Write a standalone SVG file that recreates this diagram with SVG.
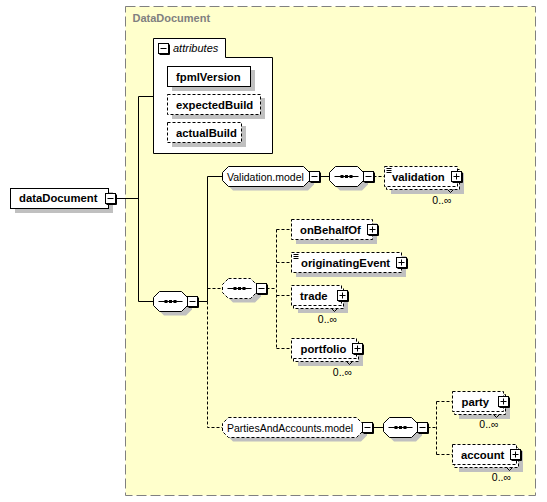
<svg xmlns="http://www.w3.org/2000/svg" xmlns:xlink="http://www.w3.org/1999/xlink" width="547" height="502" viewBox="0 0 547 502">
<style>
.bx{fill:#fff;stroke:#000;stroke-width:1}
.d{stroke-dasharray:3,2}
.sh{fill:#c0c0c0;stroke:none}
.ln{fill:none;stroke:#000;stroke-width:1}
.el{font-family:"Liberation Sans",Arial,sans-serif;font-weight:bold;font-size:11.3px;fill:#000}
.md{font-family:"Liberation Sans",Arial,sans-serif;font-size:10.5px;fill:#000}
.oc{font-family:"Liberation Sans",Arial,sans-serif;font-size:10.5px;fill:#000;text-anchor:end}
.ct{font-family:"Liberation Sans",Arial,sans-serif;font-weight:bold;font-size:11px;fill:#808080}
.at{font-family:"Liberation Sans",Arial,sans-serif;font-style:italic;font-size:11px;fill:#000}
</style>
<defs>
<g id="mn"><rect x="0" y="0" width="10" height="10" class="bx"/><path d="M2,5H8" class="ln"/><path d="M11,1V11H1" class="ln"/></g>
<g id="pl"><rect x="0" y="0" width="10" height="10" class="bx"/><path d="M2,5H8M5,2V8" class="ln"/><path d="M11,1V11H1" class="ln"/></g>
<g id="seqsym"><path d="M5,10H29" class="ln"/><rect x="11" y="8.5" width="3" height="3" fill="#000"/><rect x="15.5" y="8.5" width="3" height="3" fill="#000"/><rect x="20" y="8.5" width="3" height="3" fill="#000"/></g>
<polygon id="oct" points="6,0 28,0 34,6 34,14 28,20 6,20 0,14 0,6"/>
<path id="doc" d="M1.5,2H6.5M1.5,4H6.5M1.5,6H6.5" class="ln"/>
</defs>

<g id="DataDocument">
<rect x="125.5" y="6.5" width="410" height="489" fill="#ffffcc" stroke="#808080" stroke-dasharray="10,4"/>
<text x="132.5" y="22" class="ct">DataDocument</text>
</g>

<g id="connectors">
<path d="M115.5,198.5H138.5M138.5,96.5V301.5M138.5,96.5H153.5M138.5,301.5H153.5" class="ln"/>
<path d="M197.5,301.5H207.5M207.5,176.5V301.5M207.5,176.5H222.5" class="ln"/>
<path d="M207.5,301.5V427.5H222.5M207.5,288.5H222.5" class="ln d"/>
<path d="M319.5,176.5H329.5" class="ln"/>
<path d="M373.5,176.5H384.5" class="ln d"/>
<path d="M266.5,288.5H276.5M276.5,229.5V348.5M276.5,229.5H291.5M276.5,262.5H291.5M276.5,295.5H291.5M276.5,348.5H291.5" class="ln d"/>
<path d="M372.5,427.5H383.5" class="ln"/>
<path d="M427.5,427.5H436.5M436.5,401.5V454.5M436.5,401.5H452.5M436.5,454.5H452.5" class="ln d"/>
</g>

<g id="dataDocument">
<rect x="15" y="192" width="98" height="21" class="sh"/>
<rect x="10.5" y="188.5" width="98" height="20" class="bx"/>
<text x="19" y="202" class="el">dataDocument</text>
<use xlink:href="#mn" x="105.5" y="193.5"/>
</g>

<g id="attributes">
<path d="M153.5,38.5H225.5V57.5H272.5V153.5H153.5Z" class="bx"/>
<use xlink:href="#mn" x="158.5" y="43.5"/>
<text x="173" y="52" class="at">attributes</text>
</g>
<g id="fpmlVersion">
<rect x="172" y="70" width="83" height="21" class="sh"/>
<rect x="167.5" y="66.5" width="83" height="20" class="bx"/>
<text x="176" y="81" class="el">fpmlVersion</text>
</g>
<g id="expectedBuild">
<rect x="172" y="98" width="93" height="21" class="sh"/>
<rect x="167.5" y="94.5" width="93" height="20" class="bx d"/>
<text x="176" y="109" class="el">expectedBuild</text>
</g>
<g id="actualBuild">
<rect x="172" y="126" width="74" height="21" class="sh"/>
<rect x="167.5" y="122.5" width="74" height="20" class="bx d"/>
<text x="176" y="137" class="el">actualBuild</text>
</g>

<g id="sequence1">
<use xlink:href="#oct" x="158" y="295.5" class="sh"/>
<use xlink:href="#oct" x="153.5" y="291.5" class="bx"/>
<use xlink:href="#seqsym" x="153.5" y="291.5"/>
<use xlink:href="#mn" x="187.5" y="296.5"/>
</g>

<g id="Validation.model">
<polygon points="233,170.5 308,170.5 314,176.5 314,184.5 308,190.5 233,190.5 227,184.5 227,176.5" class="sh"/>
<polygon points="228.5,166.5 303.5,166.5 309.5,172.5 309.5,180.5 303.5,186.5 228.5,186.5 222.5,180.5 222.5,172.5" class="bx"/>
<text x="227" y="180.5" class="md">Validation.model</text>
<use xlink:href="#mn" x="309.5" y="171.5"/>
</g>

<g id="sequence3">
<use xlink:href="#oct" x="334" y="170.5" class="sh"/>
<use xlink:href="#oct" x="329.5" y="166.5" class="bx"/>
<use xlink:href="#seqsym" x="329.5" y="166.5"/>
<use xlink:href="#mn" x="363.5" y="171.5"/>
</g>

<g id="validation">
<rect x="391" y="173" width="73" height="21" class="sh"/>
<rect x="386.5" y="169.5" width="73" height="20" class="bx d"/>
<rect x="384.5" y="166.5" width="73" height="20" class="bx d"/>
<use xlink:href="#doc" x="385" y="166.5"/>
<text x="392" y="180.5" class="el">validation</text>
<use xlink:href="#pl" x="451.5" y="171.5"/>
<path d="M447.5,189.5L450.5,192.5L453.5,189.5" class="ln"/>
<text x="451.5" y="203.5" class="oc">0..∞</text>
</g>

<g id="sequence2">
<use xlink:href="#oct" x="227" y="282.5" class="sh"/>
<use xlink:href="#oct" x="222.5" y="278.5" class="bx d"/>
<use xlink:href="#seqsym" x="222.5" y="278.5"/>
<use xlink:href="#mn" x="256.5" y="283.5"/>
</g>

<g id="onBehalfOf">
<rect x="296" y="223" width="81" height="21" class="sh"/>
<rect x="291.5" y="219.5" width="81" height="20" class="bx d"/>
<text x="300" y="234" class="el">onBehalfOf</text>
<use xlink:href="#pl" x="367.5" y="224.5"/>
</g>

<g id="originatingEvent">
<rect x="296" y="256" width="110" height="21" class="sh"/>
<rect x="291.5" y="252.5" width="110" height="20" class="bx d"/>
<use xlink:href="#doc" x="292" y="252.5"/>
<text x="301" y="267" class="el">originatingEvent</text>
<use xlink:href="#pl" x="396.5" y="257.5"/>
</g>

<g id="trade">
<rect x="298" y="292" width="50" height="21" class="sh"/>
<rect x="293.5" y="288.5" width="50" height="20" class="bx d"/>
<rect x="291.5" y="285.5" width="50" height="20" class="bx d"/>
<text x="300" y="299.5" class="el">trade</text>
<use xlink:href="#pl" x="337.5" y="290.5"/>
<path d="M331.5,308.5L334.5,311.5L337.5,308.5" class="ln"/>
<text x="337" y="322.5" class="oc">0..∞</text>
</g>

<g id="portfolio">
<rect x="298" y="345" width="65" height="21" class="sh"/>
<rect x="293.5" y="341.5" width="65" height="20" class="bx d"/>
<rect x="291.5" y="338.5" width="65" height="20" class="bx d"/>
<text x="300.5" y="352.5" class="el">portfolio</text>
<use xlink:href="#pl" x="352.5" y="343.5"/>
<path d="M346.5,361.5L349.5,364.5L352.5,361.5" class="ln"/>
<text x="352" y="376" class="oc">0..∞</text>
</g>

<g id="PartiesAndAccounts.model">
<polygon points="233,421.5 361,421.5 367,427.5 367,435.5 361,441.5 233,441.5 227,435.5 227,427.5" class="sh"/>
<polygon points="228.5,417.5 356.5,417.5 362.5,423.5 362.5,431.5 356.5,437.5 228.5,437.5 222.5,431.5 222.5,423.5" class="bx d"/>
<text x="227" y="431.5" class="md">PartiesAndAccounts.model</text>
<use xlink:href="#mn" x="362.5" y="422.5"/>
</g>

<g id="sequence4">
<use xlink:href="#oct" x="388" y="421.5" class="sh"/>
<use xlink:href="#oct" x="383.5" y="417.5" class="bx"/>
<use xlink:href="#seqsym" x="383.5" y="417.5"/>
<use xlink:href="#mn" x="417.5" y="422.5"/>
</g>

<g id="party">
<rect x="459" y="398" width="51" height="21" class="sh"/>
<rect x="454.5" y="394.5" width="51" height="20" class="bx d"/>
<rect x="452.5" y="391.5" width="51" height="20" class="bx d"/>
<text x="461.5" y="405.5" class="el">party</text>
<use xlink:href="#pl" x="498.5" y="396.5"/>
<path d="M493.5,414.5L496.5,417.5L499.5,414.5" class="ln"/>
<text x="498.5" y="428" class="oc">0..∞</text>
</g>

<g id="account">
<rect x="459" y="451" width="64" height="21" class="sh"/>
<rect x="454.5" y="447.5" width="64" height="20" class="bx d"/>
<rect x="452.5" y="444.5" width="64" height="20" class="bx d"/>
<text x="461" y="458.5" class="el">account</text>
<use xlink:href="#pl" x="510.5" y="449.5"/>
<path d="M506.5,467.5L509.5,470.5L512.5,467.5" class="ln"/>
<text x="511" y="481" class="oc">0..∞</text>
</g>
</svg>
